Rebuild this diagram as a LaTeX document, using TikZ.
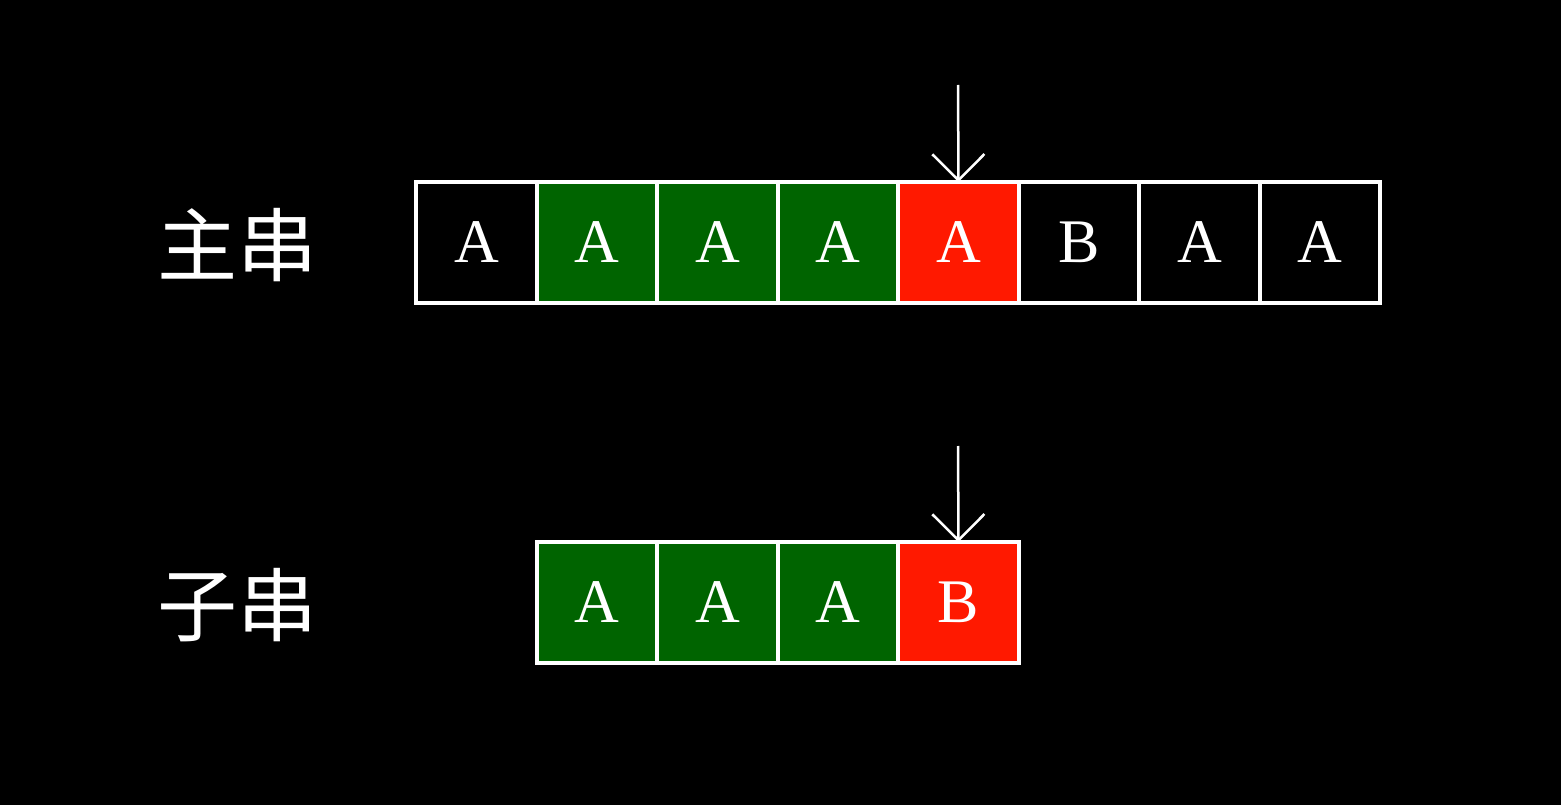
\documentclass[tikz,border=0pt]{standalone}
\usepackage{fontspec}
\setmainfont{Liberation Serif}
\newfontfamily\cjk{Noto Sans CJK SC}
\usetikzlibrary{arrows.meta}
\definecolor{okg}{RGB}{0,100,0}
\definecolor{bad}{RGB}{255,25,0}
\tikzset{
 cell/.style={draw=white,line width=4pt,minimum width=120.5pt,minimum height=121pt,inner sep=0pt,outer sep=0pt,text=white,font=\fontsize{62}{62}\selectfont},
 lbl/.style={text=white,font=\cjk\fontsize{80}{80}\selectfont},
 ptr/.style={draw=white,line width=2.5pt,-{Straight Barb[length=26pt,width=52pt,line width=2.5pt]}}
}
\begin{document}
\begin{tikzpicture}[x=1pt,y=-1pt]
\fill[black] (0,0) rectangle (1561,805);
\useasboundingbox (0,0) rectangle (1561,805);
\foreach \i/\c/\t in {0/black/A,1/okg/A,2/okg/A,3/okg/A,4/bad/A,5/black/B,6/black/A,7/black/A}{
  \node[cell,fill=\c] (m\i) at (476.5+120.5*\i,242.5) {\t};
}
\foreach \i/\c/\t in {1/okg/A,2/okg/A,3/okg/A,4/bad/B}{
  \node[cell,fill=\c] (s\i) at (476.5+120.5*\i,602.5) {\t};
}
\node[lbl] (l1) at (237,245) {主串};
\node[lbl] (l2) at (237,605) {子串};
\coordinate (a1) at (958,85);
\coordinate (a2) at (958,446);
\draw[ptr] (a1) -- (m4.north);
\draw[ptr] (a2) -- (s4.north);
\end{tikzpicture}
\end{document}
